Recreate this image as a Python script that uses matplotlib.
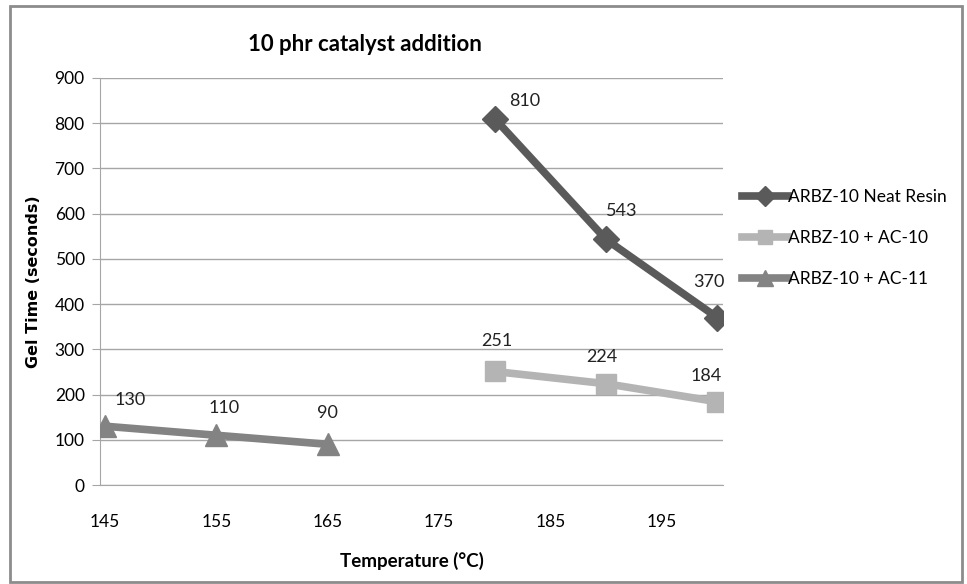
import matplotlib
matplotlib.use("Agg")
import matplotlib.pyplot as plt
from matplotlib.patches import Rectangle

plt.rcParams['font.family'] = ['Lato', 'DejaVu Sans']

temp_neat = [180, 190, 200]
gel_neat = [810, 543, 370]
temp_ac10 = [180, 190, 200]
gel_ac10 = [251, 224, 184]
temp_ac11 = [145, 155, 165]
gel_ac11 = [130, 110, 90]
x_ticks = [145, 155, 165, 175, 185, 195]
y_ticks = list(range(0, 1000, 100))

fig = plt.figure(figsize=(9.67, 5.84), dpi=100)
ax = fig.add_axes([100 / 967, 1 - 485 / 584, 623 / 967, 407 / 584])

# outer chart frame
fig.patches.append(Rectangle((10 / 967, 2 / 584), 952 / 967, 576 / 584,
                             transform=fig.transFigure, fill=False,
                             edgecolor='#8c8c8c', linewidth=2))

# label offsets in pixels (dx, dy)
series = [
    (temp_neat, gel_neat, '#5a5a5a', 'D', 13, 'ARBZ-10 Neat Resin', [(30, 18), (16, 28), (-9, 36)]),
    (temp_ac10, gel_ac10, '#b4b4b4', 's', 14, 'ARBZ-10 + AC-10', [(2, 30), (-4, 27), (-11, 26)]),
    (temp_ac11, gel_ac11, '#838383', '^', 16, 'ARBZ-10 + AC-11', [(25, 26), (8, 27), (0, 31)]),
]

for xs, ys, col, mk, ms, lab, offs in series:
    ax.plot(xs, ys, color=col, linewidth=5.5, marker=mk, markersize=ms,
            markeredgecolor=col, label=lab, zorder=3)
    for x, y, (dx, dy) in zip(xs, ys, offs):
        ax.annotate(str(y), (x, y), xytext=(dx, dy), textcoords='offset pixels',
                    ha='center', va='center', fontsize=13, color='#222222')

ax.set_xlim(144.55, 200.5)
ax.set_ylim(0, 900)
ax.set_xticks(x_ticks)
ax.set_yticks(y_ticks)
ax.grid(axis='y', color='#a6a6a6', linewidth=1)
ax.set_axisbelow(True)
for s in ['top', 'right']:
    ax.spines[s].set_visible(False)
ax.spines['left'].set_color('#a6a6a6')
ax.spines['bottom'].set_color('#a6a6a6')
ax.tick_params(axis='y', length=6, color='#a6a6a6', labelsize=12.5, pad=5)
ax.tick_params(axis='x', length=0, labelsize=12.5, pad=21)

ax.set_title('10 phr catalyst addition', fontsize=16, fontweight='bold',
             x=0.425, y=1.045)
ax.set_xlabel('Temperature (°C)', fontsize=13.5, fontweight='bold')
ax.set_ylabel('Gel Time (seconds)', fontsize=11.5, fontweight='bold',
              family='DejaVu Sans')
ax.xaxis.set_label_coords(0.5, -0.165)
ax.yaxis.set_label_coords(-0.094, 0.5)

ax.legend(loc='upper left', bbox_to_anchor=(1.02, 0.745), frameon=False,
          fontsize=12.5, handlelength=2.6, handletextpad=0.05, labelspacing=1.45,
          markerscale=0.75, borderaxespad=0)

fig.savefig('out.png', dpi=100)
